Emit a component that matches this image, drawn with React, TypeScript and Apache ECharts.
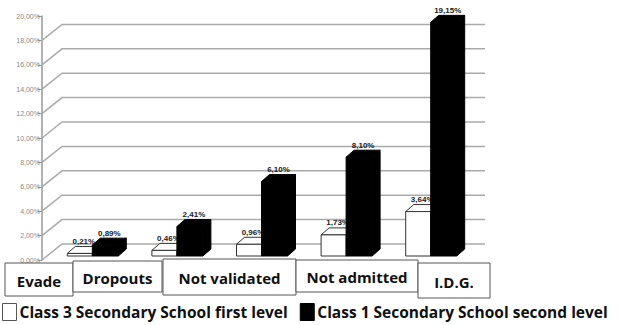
import React, { useEffect, useRef } from "react";
import * as echarts from "echarts";

const categories = ["Evade", "Dropouts", "Not validated", "Not admitted", "I.D.G."];
const seriesNames = ["Class 3 Secondary School first level", "Class 1 Secondary School second level"];
const class3Values = [0.21, 0.46, 0.96, 1.73, 3.64];
const class1Values = [0.89, 2.41, 6.1, 8.1, 19.15];
const gridTicks = [0, 2, 4, 6, 8, 10, 12, 14, 16, 18];

const fmt = (v: number) => v.toFixed(2).replace(".", ",") + "%";

// category label boxes (layout only)
const boxes = [
  { x: 5, y: 263, w: 68, h: 33 },
  { x: 73, y: 261, w: 89, h: 31 },
  { x: 163, y: 259, w: 133, h: 36 },
  { x: 296, y: 260, w: 122, h: 32 },
  { x: 418, y: 263, w: 72, h: 35 },
];

const BAR_W = 25;
const DX = 8;
const DY = -7;
const SHIFT = -4;

function makeBarRenderer(kind: number) {
  return (params: any, api: any) => {
    const i = api.value(0);
    const v = api.value(1);
    const base = api.coord([i, 0]);
    const top = api.coord([i, v]);
    const cx = base[0];
    const w = kind === 0 ? BAR_W : BAR_W + 1;
    const x0 = kind === 0 ? cx - BAR_W : cx;
    const yB = base[1] + SHIFT;
    const yT = top[1] + SHIFT;
    const fill = kind === 0 ? "#ffffff" : "#000000";
    const sideFill = kind === 0 ? "#d8d8d8" : "#000000";
    const stroke = kind === 0 ? "#333333" : "#000000";
    return {
      type: "group",
      children: [
        {
          type: "polygon",
          shape: { points: [[x0 + w, yT], [x0 + w + DX, yT + DY], [x0 + w + DX, yB + DY], [x0 + w, yB]] },
          style: { fill: sideFill, stroke, lineWidth: 1 },
        },
        {
          type: "polygon",
          shape: { points: [[x0, yT], [x0 + DX, yT + DY], [x0 + w + DX, yT + DY], [x0 + w, yT]] },
          style: { fill, stroke, lineWidth: 1 },
        },
        {
          type: "rect",
          shape: { x: x0, y: yT, width: w, height: yB - yT },
          style: { fill, stroke, lineWidth: 1 },
        },
        {
          type: "text",
          x: x0 + w / 2 + 4,
          y: yT + DY - 1,
          style: {
            text: fmt(v),
            align: "center",
            verticalAlign: "bottom",
            fontSize: 8,
            fontWeight: "bold",
            fontFamily: "Liberation Sans, Arial, sans-serif",
            fill: "#222",
          },
        },
      ],
    };
  };
}

function gridRenderer(params: any, api: any) {
  const v = api.value(1);
  const y = api.coord([0, v])[1];
  const cs = params.coordSys;
  const ax = cs.x - 8;
  return {
    type: "polyline",
    shape: { points: [[ax, y], [ax + 20, y - 16], [cs.x + 435, y - 16]] },
    style: { stroke: "#aaaaaa", lineWidth: 1.5, fill: "none" },
  };
}

export default function App() {
  const ref = useRef<HTMLDivElement>(null);
  useEffect(() => {
    if (!ref.current) return;
    const chart = echarts.init(ref.current, undefined, { renderer: "svg" });
    const graphics: any[] = [];
    categories.forEach((c, i) => {
      const b = boxes[i];
      graphics.push({
        type: "rect",
        shape: { x: b.x, y: b.y, width: b.w, height: b.h },
        style: { fill: "#fff", stroke: "#555", lineWidth: 1 },
        z: 10,
      });
      graphics.push({
        type: "text",
        x: b.x + b.w / 2,
        y: b.y + b.h / 2 + 1,
        style: {
          text: c,
          align: "center",
          verticalAlign: "middle",
          fontSize: 15,
          fontWeight: "bold",
          fontFamily: "Open Sans, sans-serif",
          fill: "#111",
        },
        z: 11,
      });
    });
    chart.setOption({
      animation: false,
      grid: { left: 50, top: 16, width: 423, height: 244 },
      xAxis: {
        type: "category",
        data: categories,
        axisLine: { show: false },
        axisTick: { show: false },
        axisLabel: { show: false },
      },
      yAxis: {
        type: "value",
        min: 0,
        max: 20,
        interval: 2,
        offset: 8,
        axisLine: { show: true, lineStyle: { color: "#999", width: 1.5 } },
        axisTick: { show: true, length: 4, lineStyle: { color: "#999" } },
        splitLine: { show: false },
        axisLabel: {
          formatter: (v: number) => fmt(v),
          fontSize: 7,
          color: "#888",
          margin: 2,
          fontFamily: "Liberation Sans, Arial, sans-serif",
        },
      },
      legend: {
        left: 2,
        top: 303,
        padding: 0,
        icon: "rect",
        itemWidth: 14,
        itemHeight: 17,
        itemGap: 12,
        selectedMode: false,
        textStyle: {
          fontSize: 15.5,
          lineHeight: 18,
          fontWeight: "bold",
          fontFamily: "Open Sans, sans-serif",
          color: "#111",
          padding: [0, 0, 0, -2],
        },
        data: [
          { name: seriesNames[0], itemStyle: { color: "#fff", borderColor: "#555", borderWidth: 1 } },
          { name: seriesNames[1], itemStyle: { color: "#000", borderColor: "#000", borderWidth: 1 } },
        ],
      },
      graphic: graphics,
      series: [
        {
          type: "custom",
          name: "grid",
          silent: true,
          clip: false,
          z: 1,
          renderItem: gridRenderer,
          data: gridTicks.map((t) => [0, t]),
        },
        {
          type: "custom",
          name: seriesNames[0],
          clip: false,
          z: 2,
          itemStyle: { color: "#fff", borderColor: "#555" },
          renderItem: makeBarRenderer(0),
          data: class3Values.map((v, i) => [i, v]),
        },
        {
          type: "custom",
          name: seriesNames[1],
          clip: false,
          z: 3,
          itemStyle: { color: "#000" },
          renderItem: makeBarRenderer(1),
          data: class1Values.map((v, i) => [i, v]),
        },
      ],
    });
    return () => chart.dispose();
  }, []);
  return <div ref={ref} style={{ width: 618, height: 325, position: "absolute", left: 0, top: 0 }} />;
}
